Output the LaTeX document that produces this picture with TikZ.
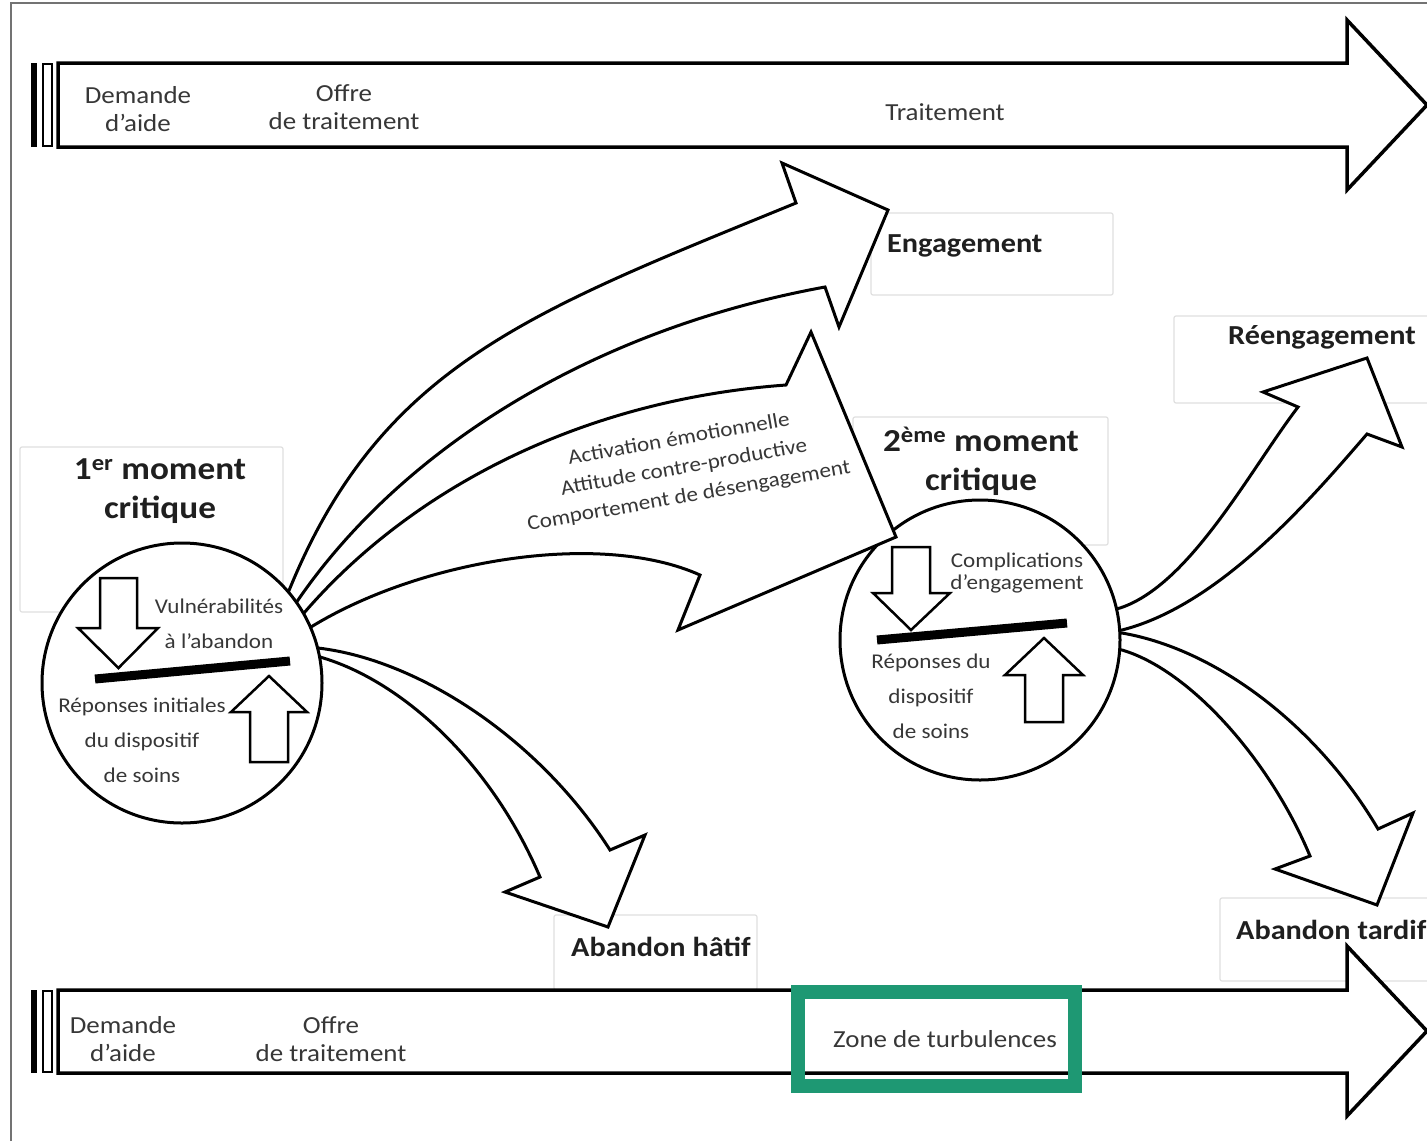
\documentclass[tikz,border=0pt]{standalone}
\usepackage{fontspec}
\setmainfont{Carlito}[FakeStretch=1.1]
\definecolor{tgreen}{RGB}{30,152,115}
\definecolor{txt}{RGB}{55,55,55}
\definecolor{boxgray}{RGB}{224,224,224}
\begin{document}
\begin{tikzpicture}[x=1pt,y=-1pt,
  outl/.style={draw=black, line width=3pt, fill=white, line join=miter},
  bigarrow/.style={draw=black, line width=3.5pt, fill=white, line join=miter},
  innerarrow/.style={draw=black, line width=2.5pt, fill=white, line join=miter},
  tbox/.style={draw=boxgray, line width=1.2pt, fill=white, rounded corners=2pt},
  lbl/.style={font=\fontsize{24.5}{28}\selectfont, text=txt, align=center, inner sep=0pt},
  clbl/.style={font=\fontsize{21}{25}\selectfont, text=txt, align=center, inner sep=0pt},
  blbl/.style={font=\bfseries\fontsize{27.5}{33}\selectfont, text=black!88, inner sep=0pt},
  mlbl/.style={font=\bfseries\fontsize{32}{39}\selectfont, text=black!88, align=center, inner sep=0pt},
  balance/.style={line width=9pt, black},
  crit/.style={circle, draw=black, line width=3pt, fill=white, minimum size=280pt, inner sep=0pt}
]
\useasboundingbox (0,0) rectangle (1427,1141);
\clip (0,0) rectangle (1427,1141);
\fill[white] (0,0) rectangle (1427,1141);
% frame
\draw[black!55, line width=2pt] (11,1141) -- (11,3) -- (1427,3);

% text boxes
\path[tbox] (20,447) rectangle (283,612);
\path[tbox] (871,213) rectangle (1113,295);
\path[tbox] (853,417) rectangle (1108,545);
\path[tbox] (1174,316) rectangle (1440,403);
\path[tbox] (1220,898) rectangle (1440,981);
\path[tbox] (554,915) rectangle (757,990);

% top time arrow
\path[bigarrow] (58,63) -- (1347,63) -- (1347,20) -- (1427,105) -- (1347,190) -- (1347,147) -- (58,147) -- cycle;
\fill[black] (31,63) rectangle (37,147);
\draw[line width=2pt, fill=white] (43,64) rectangle (52,146);

% bottom time arrow
\path[bigarrow] (58,990) -- (1347,990) -- (1347,946) -- (1427,1031) -- (1347,1116) -- (1347,1073) -- (58,1073) -- cycle;
\fill[black] (31,990) rectangle (37,1073);
\draw[line width=2pt, fill=white] (43,991) rectangle (52,1072);

% arrows from second circle
\path[outl] (980,640) -- (1120,608) .. controls (1190,585) and (1250,470) .. (1298,407) -- (1263,392) -- (1367,358) -- (1402,447) -- (1367,434) .. controls (1310,500) and (1220,605) .. (1122,630) -- cycle;
\path[outl] (980,640) -- (1122,633) .. controls (1220,650) and (1320,730) .. (1378,829) -- (1413,813) -- (1377,905) -- (1275,869) -- (1310,856) .. controls (1270,760) and (1190,670) .. (1122,650) -- cycle;

% second circle
\node[crit] (c2) at (980,640) {};

% arrows from first circle
\path[outl] (182,683) -- (288,593) .. controls (380,365) and (530,312) .. (796,203) -- (782,163) -- (888,210) -- (839,327) -- (825,287) .. controls (590,330) and (400,450) .. (296,603) -- cycle;
\path[outl] (182,683) -- (304,613) .. controls (410,490) and (580,400) .. (786,385) -- (811,332) -- (896,537) -- (678,630) -- (700,575) .. controls (600,530) and (420,560) .. (311,627) -- cycle;
\path[outl] (182,683) -- (318,648) .. controls (420,660) and (540,740) .. (610,850) -- (645,835) -- (608,927) -- (505,892) -- (540,877) .. controls (490,760) and (400,680) .. (320,657) -- cycle;

% first circle
\node[crit] (c1) at (182,683) {};

% balance in circle 1
\path[innerarrow] (100,578) -- (137,578) -- (137,628) -- (158,628) -- (118.5,668) -- (78,628) -- (100,628) -- cycle;
\draw[balance] (95,679) -- (290,661);
\path[innerarrow] (250,762) -- (288,762) -- (288,712) -- (307,712) -- (269,676) -- (231,712) -- (250,712) -- cycle;

% balance in circle 2
\path[innerarrow] (892,547) -- (930,547) -- (930,593) -- (950,593) -- (911,630) -- (873,593) -- (892,593) -- cycle;
\draw[balance] (877,640) -- (1067,623);
\path[innerarrow] (1025,722) -- (1063,722) -- (1063,675) -- (1083,675) -- (1044,638) -- (1005,675) -- (1025,675) -- cycle;

% texts
\node[lbl] (tdem) at (138,109) {Demande\\d’aide};
\node[lbl] (toff) at (344,107) {Offre\\de traitement};
\node[lbl] (ttrt) at (945,112) {Traitement};
\node[lbl] (bdem) at (123,1039) {Demande\\d’aide};
\node[lbl] (boff) at (331,1039) {Offre\\de traitement};
\node[lbl] (bzone) at (945,1039) {Zone de turbulences};

\node[mlbl] (m1) at (160,491) {1\textsuperscript{er} moment\\critique};
\node[mlbl] (m2) at (981,461) {2\textsuperscript{ème} moment\\critique};
\node[blbl, anchor=west] (eng) at (887,246) {Engagement};
\node[blbl, anchor=west] (reeng) at (1228,337) {Réengagement};
\node[blbl, anchor=west] (abh) at (571,947) {Abandon hâtif};
\node[blbl, anchor=west] (abt) at (1236,930) {Abandon tardif};

\node[clbl] (v1) at (219,606) {Vulnérabilités};
\node[clbl] (v2) at (219,641) {à l’abandon};
\node[clbl, font=\fontsize{21}{35}\selectfont] (r1) at (142,740) {Réponses initiales\\du dispositif\\de soins};
\node[clbl, font=\fontsize{21}{22}\selectfont] (k1) at (1017,573) {Complications\\d’engagement};
\node[clbl, font=\fontsize{21}{35}\selectfont] (r2) at (931,696) {Réponses du\\dispositif\\de soins};
\node[clbl, font=\fontsize{21}{29}\selectfont, rotate=10] (act) at (684,468) {Activation émotionnelle\\Attitude contre-productive\\Comportement de désengagement};

% highlight
\draw[tgreen, line width=14pt] (798,992) rectangle (1075,1086);
\end{tikzpicture}
\end{document}
